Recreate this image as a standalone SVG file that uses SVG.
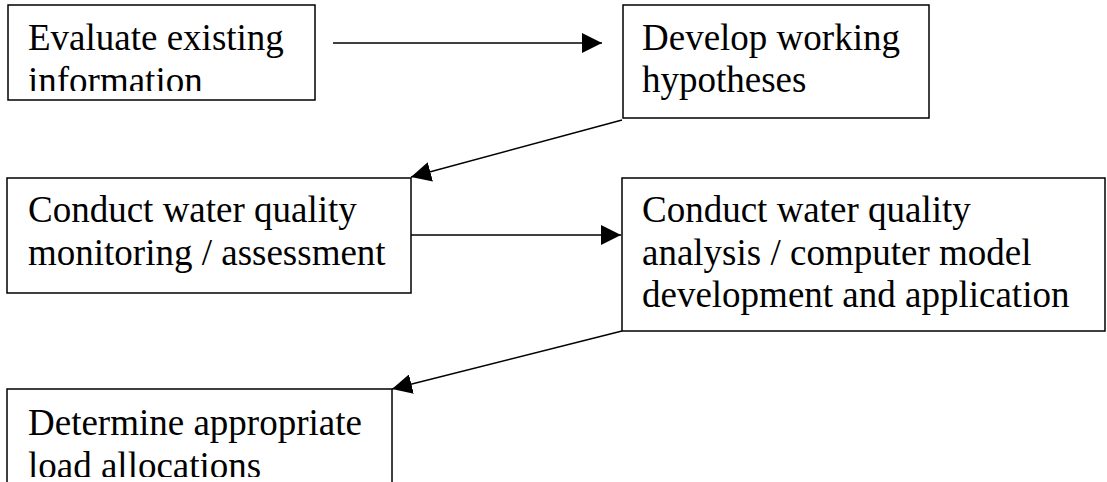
<svg xmlns="http://www.w3.org/2000/svg" width="1107" height="482" viewBox="0 0 1107 482">
<style>
.box{fill:#fff;stroke:#000;stroke-width:1.5}
.t{font-family:"Liberation Serif","Times New Roman",serif;font-size:37px;fill:#000}
.c{stroke:#000;stroke-width:1.5;fill:none;marker-end:url(#ah)}
</style>
<defs>
<marker id="ah" markerUnits="userSpaceOnUse" markerWidth="20" markerHeight="20" refX="20" refY="10" orient="auto" viewBox="0 0 20 20">
<path d="M0,0 L20,10 L0,20 z" fill="#000"/>
</marker>
<clipPath id="cp1"><rect x="8" y="5" width="307" height="86"/></clipPath>
<clipPath id="cp5"><rect x="7" y="389" width="385" height="88"/></clipPath>
</defs>
<rect width="1107" height="482" fill="#fff"/>
<g id="n1">
<rect class="box" x="8" y="5" width="307" height="95"/>
<g clip-path="url(#cp1)">
<text class="t" x="28" y="50">Evaluate existing</text>
<text class="t" x="28" y="92.5">information</text>
</g>
</g>
<g id="n2">
<rect class="box" x="623" y="5" width="306" height="113"/>
<text class="t" x="642" y="50">Develop working</text>
<text class="t" x="642" y="92">hypotheses</text>
</g>
<g id="n3">
<rect class="box" x="7" y="178" width="404" height="115"/>
<text class="t" x="28" y="222">Conduct water quality</text>
<text class="t" x="28" y="265">monitoring / assessment</text>
</g>
<g id="n4">
<rect class="box" x="622" y="178" width="483" height="153"/>
<text class="t" x="642" y="222">Conduct water quality</text>
<text class="t" x="642" y="264.5">analysis / computer model</text>
<text class="t" x="642" y="307">development and application</text>
</g>
<g id="n5">
<rect class="box" x="7" y="389" width="385" height="100"/>
<g clip-path="url(#cp5)">
<text class="t" x="28" y="435">Determine appropriate</text>
<text class="t" x="28" y="477.5">load allocations</text>
</g>
</g>
<g id="connectors">
<line class="c" x1="333" y1="43" x2="602" y2="43"/>
<line class="c" x1="622" y1="120" x2="411" y2="177"/>
<line class="c" x1="411" y1="235" x2="621" y2="235"/>
<line class="c" x1="622" y1="331" x2="392" y2="389"/>
</g>
</svg>
